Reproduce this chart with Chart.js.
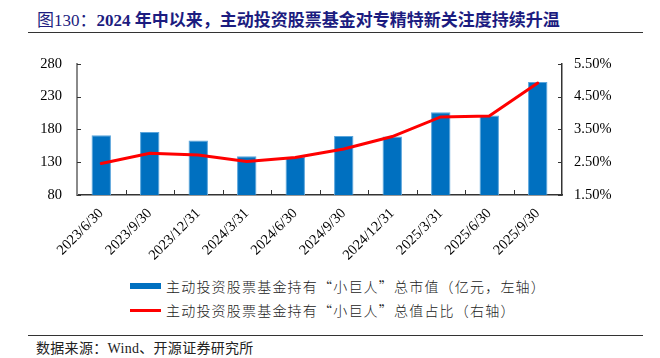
<!DOCTYPE html>
<html>
<head>
<meta charset="utf-8">
<script src="https://cdn.jsdelivr.net/npm/chart.js@4/dist/chart.umd.min.js"></script>
<style>
  body { margin: 0; background: #fff; }
  #wrap { position: relative; width: 660px; height: 358px; overflow: hidden; }
  .title { position: absolute; left: 37px; top: 12px; font-size: 17px; line-height: 18px; color: #1c1c80; white-space: nowrap; font-family: "Liberation Serif", "Noto Sans CJK SC", serif; }
  .title b { font-weight: bold; }
  .rule { position: absolute; left: 28px; width: 615px; height: 1px; background: #333; }
  .leg { position: absolute; left: 130px; font-size: 14px; line-height: 16px; color: #222; white-space: nowrap; font-family: "Noto Sans CJK SC", sans-serif; font-weight: 300; letter-spacing: 1.2px; }
  .leg span.key { position: absolute; left: 0; width: 31px; }
  .leg span.txt { position: absolute; left: 36px; top: 0; }
  .src { position: absolute; left: 36px; top: 341px; font-size: 14px; line-height: 16px; color: #222; white-space: nowrap; letter-spacing: 0.3px; font-family: "Liberation Serif", "Noto Sans CJK SC", serif; }
  canvas { position: absolute; left: 0; top: 40px; }
</style>
</head>
<body>
<div id="wrap">
  <div class="title">图130：<b>2024 年中以来，主动投资股票基金对专精特新关注度持续升温</b></div>
  <div class="rule" style="top:32px"></div>
  <canvas id="grafico" width="660" height="230"></canvas>
  <div class="leg" style="top:278px;width:420px;height:16px">
    <span class="key" style="top:5px;height:6px;background:#0070c0"></span>
    <span class="txt">主动投资股票基金持有“小巨人”总市值（亿元，左轴）</span>
  </div>
  <div class="leg" style="top:302px;width:420px;height:16px">
    <span class="key" style="top:7px;height:3px;background:#ff0000"></span>
    <span class="txt">主动投资股票基金持有“小巨人”总值占比（右轴）</span>
  </div>
  <div class="rule" style="top:335px"></div>
  <div class="src">数据来源：Wind、开源证券研究所</div>
</div>
<script>
const labels = ["2023/6/30", "2023/9/30", "2023/12/31", "2024/3/31", "2024/6/30",
  "2024/9/30", "2024/12/31", "2025/3/31", "2025/6/30", "2025/9/30"];
const valorMercado = [171, 176, 163, 139, 138, 170, 169, 206, 201, 252];
const percentual = [2.46, 2.77, 2.72, 2.52, 2.64, 2.90, 3.28, 3.88, 3.91, 4.91];
const ticksEsq = [80, 130, 180, 230, 280];
const ticksDir = [1.5, 2.5, 3.5, 4.5, 5.5];

const fonte = { family: "'Liberation Serif', 'Times New Roman', serif", size: 14.5 };

// tracinhos para dentro dos eixos
const tracos = {
  id: "tracos",
  afterDraw(chart) {
    const c = chart.ctx;
    const a = chart.chartArea;
    c.save();
    c.lineWidth = 1;
    c.strokeStyle = "#333";
    c.beginPath();
    const n = labels.length;
    const w = (a.right - a.left) / n;
    for (let i = 1; i < n; i++) {
      const px = Math.round(a.left + i * w) + 0.5;
      c.moveTo(px, a.bottom);
      c.lineTo(px, a.bottom - 5);
    }
    ticksEsq.forEach(function (v) {
      const py = Math.round(chart.scales.y.getPixelForValue(v)) + 0.5;
      c.moveTo(a.left, py);
      c.lineTo(a.left + 4, py);
    });
    ticksDir.forEach(function (v) {
      const py = Math.round(chart.scales.y1.getPixelForValue(v)) + 0.5;
      c.moveTo(a.right, py);
      c.lineTo(a.right - 4, py);
    });
    c.stroke();
    c.restore();
  },
};

const chart = new Chart(document.getElementById("grafico"), {
  data: {
    labels: labels,
    datasets: [
      {
        type: "line",
        data: percentual,
        yAxisID: "y1",
        borderColor: "#ff0000",
        borderWidth: 3,
        pointRadius: 0,
        tension: 0,
        borderCapStyle: "round",
        order: 0,
      },
      {
        type: "bar",
        data: valorMercado,
        yAxisID: "y",
        backgroundColor: "#0070c0",
        borderColor: "#5aa5dc",
        borderWidth: 1,
        categoryPercentage: 1,
        barPercentage: 0.4,
        order: 1,
      },
    ],
  },
  options: {
    responsive: false,
    animation: false,
    devicePixelRatio: 1,
    layout: { padding: { top: 15, left: 0, right: 0, bottom: 0 } },
    plugins: { legend: { display: false }, tooltip: { enabled: false } },
    scales: {
      x: {
        grid: { display: false },
        border: { color: "#333", width: 1.5 },
        ticks: {
          color: "#000",
          font: fonte,
          minRotation: 45,
          maxRotation: 45,
          autoSkip: false,
          padding: 2,
        },
        afterFit(s) { s.height = 75; },
      },
      y: {
        position: "left",
        min: 80,
        max: 280,
        grid: { display: false, drawTicks: false },
        border: { color: "#8a8a8a", width: 2 },
        ticks: { stepSize: 50, color: "#000", font: fonte, padding: 15 },
        afterFit(s) { s.width = 77; },
      },
      y1: {
        position: "right",
        min: 1.5,
        max: 5.5,
        grid: { display: false, drawTicks: false },
        border: { color: "#333", width: 1.5 },
        ticks: {
          stepSize: 1,
          color: "#000",
          font: fonte,
          padding: 12,
          callback: (v) => v.toFixed(2) + "%",
        },
        afterFit(s) { s.width = 98; },
      },
    },
  },
  plugins: [tracos],
});
</script>
</body>
</html>
